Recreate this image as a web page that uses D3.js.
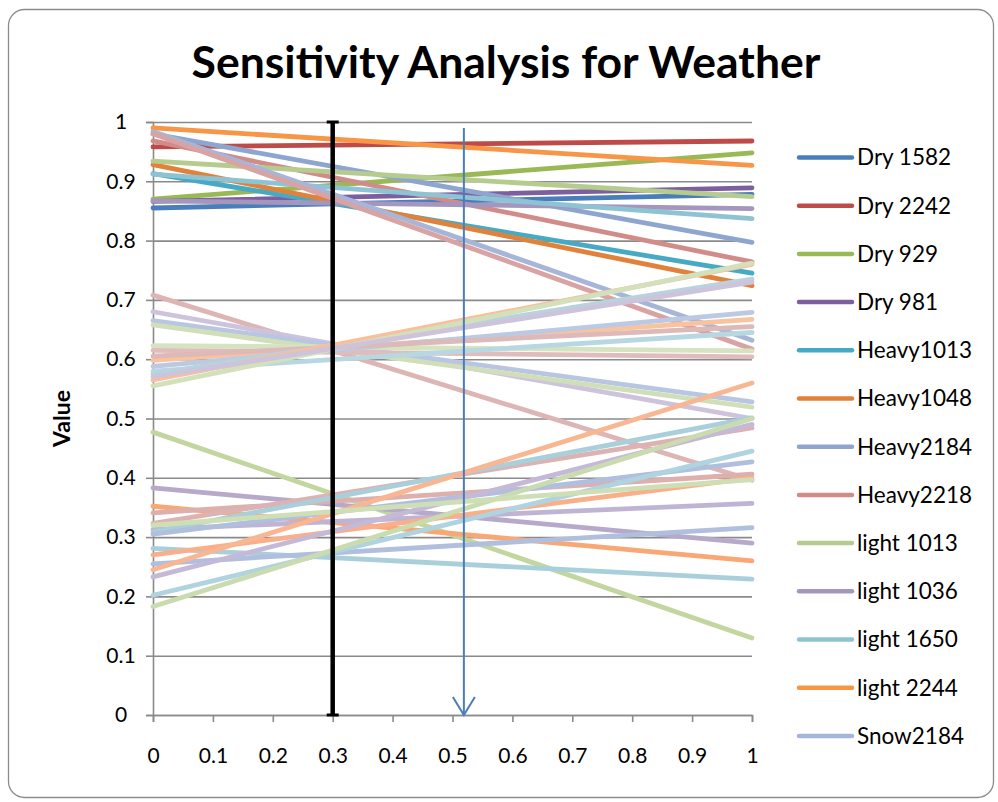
<!DOCTYPE html>
<html>
<head>
<meta charset="utf-8">
<script src="https://cdn.jsdelivr.net/npm/d3@7"></script>
<style>
  body { margin: 0; background: #fff; }
  svg text { font-family: Lato, "Open Sans", sans-serif; fill: #000; }
</style>
</head>
<body>
<svg id="chart" width="998" height="802"></svg>
<script>
// ---- data ---------------------------------------------------------
const legendNames = ["Dry 1582", "Dry 2242", "Dry 929", "Dry 981", "Heavy1013", "Heavy1048",
  "Heavy2184", "Heavy2218", "light 1013", "light 1036", "light 1650", "light 2244", "Snow2184"];
const legendColors = ["#4a7ebb", "#be4b48", "#98b954", "#7d5fa0", "#46aac5", "#e0823a",
  "#8ea5d0", "#d18c8a", "#b5cc8e", "#a596be", "#8ec3d4", "#f79646", "#a6b6d8"];

// every series is a straight run from x = 0 to x = 1
const xValues = [0, 1];
// top group (first 13 = legend), then the pale middle and low groups
const startValues = [
  0.855, 0.958, 0.870, 0.866, 0.913, 0.928, 0.980, 0.968, 0.934, 0.867, 0.912, 0.990, 0.984, 0.980,
  0.708, 0.680, 0.665, 0.658, 0.623, 0.615, 0.598, 0.588, 0.580, 0.605, 0.575, 0.565, 0.555, 0.570,
  0.477, 0.383, 0.352, 0.341, 0.323, 0.313, 0.309, 0.305, 0.281, 0.270, 0.255, 0.245, 0.233, 0.202, 0.183, 0.320
];
const endValues = [
  0.878, 0.968, 0.948, 0.889, 0.745, 0.724, 0.797, 0.764, 0.874, 0.854, 0.837, 0.927, 0.632, 0.617,
  0.396, 0.500, 0.528, 0.519, 0.614, 0.604, 0.667, 0.679, 0.645, 0.655, 0.735, 0.760, 0.762, 0.730,
  0.130, 0.290, 0.260, 0.406, 0.484, 0.357, 0.501, 0.427, 0.229, 0.400, 0.316, 0.560, 0.490, 0.445, 0.500, 0.397
];
const lineColors = [
  "#4a7ebb", "#be4b48", "#98b954", "#7d5fa0", "#46aac5", "#e0823a", "#8ea5d0", "#d18c8a",
  "#b5cc8e", "#a596be", "#8ec3d4", "#f79646", "#a6b6d8", "#d9a3a3",
  "#ddb5b4", "#cdc3dc", "#b9c6e2", "#d0dfb8", "#d6e3c0", "#e0bdbc", "#fac3a0", "#bcc9e3",
  "#b7d7e2", "#ddb9b8", "#b8d3de", "#f9be9a", "#d3e0bc", "#cdc4dc",
  "#c3d6a0", "#b6a9ca", "#f8a874", "#ddb0ae", "#dcb3b2", "#bfb4d3", "#a9cfdb", "#afbfdd",
  "#a9cfdb", "#f9b08a", "#afbfdd", "#f9b692", "#c4b9d6", "#afd3df", "#cadbaf", "#cfdfb5"
];

const xTickValues = [0, 0.1, 0.2, 0.3, 0.4, 0.5, 0.6, 0.7, 0.8, 0.9, 1];
const xTickLabels = ["0", "0.1", "0.2", "0.3", "0.4", "0.5", "0.6", "0.7", "0.8", "0.9", "1"];
const yTickValues = [0, 0.1, 0.2, 0.3, 0.4, 0.5, 0.6, 0.7, 0.8, 0.9, 1];
const yTickLabels = ["0", "0.1", "0.2", "0.3", "0.4", "0.5", "0.6", "0.7", "0.8", "0.9", "1"];

const markerX = 0.3;     // black threshold bar
const arrowX = 0.519;    // blue arrow
const arrowTop = 0.99;

// ---- layout --------------------------------------------------------
const svg = d3.select("#chart");
const plot = { left: 153, right: 752, top: 122, bottom: 715 };

const x = d3.scaleLinear().domain([0, 1]).range([plot.left, plot.right]);
const y = d3.scaleLinear().domain([0, 1]).range([plot.bottom, plot.top]);

svg.append("rect")
  .attr("x", 8.5).attr("y", 9.5)
  .attr("width", 985).attr("height", 788)
  .attr("rx", 16).attr("ry", 16)
  .attr("fill", "#fff").attr("stroke", "#8c8c8c").attr("stroke-width", 1.3);

svg.append("text")
  .attr("x", 506).attr("y", 78)
  .attr("text-anchor", "middle")
  .attr("font-size", 44.5).attr("font-weight", "bold")
  .text("Sensitivity Analysis for Weather");

// gridlines
svg.append("g")
  .attr("transform", `translate(${plot.left},0)`)
  .call(d3.axisLeft(y).tickValues(yTickValues).tickSize(-(plot.right - plot.left)).tickFormat(""))
  .call(g => g.select(".domain").remove())
  .call(g => g.selectAll("line").attr("stroke", "#8a8a8a").attr("stroke-width", 1.6));

// y axis (labels sit centred in the gutter, as in the original)
svg.append("g")
  .attr("transform", `translate(${plot.left},0)`)
  .call(d3.axisLeft(y).tickValues(yTickValues).tickSize(7).tickPadding(25)
    .tickFormat((d, i) => yTickLabels[i]))
  .call(g => g.select(".domain").attr("stroke", "#8a8a8a").attr("stroke-width", 1.6))
  .call(g => g.selectAll("line").attr("stroke", "#8a8a8a").attr("stroke-width", 1.6))
  .call(g => g.selectAll("text").attr("text-anchor", "middle")
    .attr("font-size", 21).attr("font-family", "Lato, sans-serif"));

// x axis
svg.append("g")
  .attr("transform", `translate(0,${plot.bottom})`)
  .call(d3.axisBottom(x).tickValues(xTickValues).tickSize(7).tickPadding(26)
    .tickFormat((d, i) => xTickLabels[i]))
  .call(g => g.select(".domain").attr("stroke", "#8a8a8a").attr("stroke-width", 1.6))
  .call(g => g.selectAll("line").attr("stroke", "#8a8a8a").attr("stroke-width", 1.6))
  .call(g => g.selectAll("text").attr("font-size", 21).attr("font-family", "Lato, sans-serif"));

svg.append("text")
  .attr("transform", `translate(70,${(plot.top + plot.bottom) / 2}) rotate(-90)`)
  .attr("text-anchor", "middle")
  .attr("font-size", 23).attr("font-weight", "bold")
  .text("Value");

// ---- series --------------------------------------------------------
const line = d3.line().x(d => x(d[0])).y(d => y(d[1]));
const series = startValues.map((s, i) => ({
  color: lineColors[i],
  points: [[xValues[0], s], [xValues[1], endValues[i]]]
}));

svg.append("g")
  .selectAll("path")
  .data(series)
  .join("path")
  .attr("d", d => line(d.points))
  .attr("fill", "none")
  .attr("stroke", d => d.color)
  .attr("stroke-width", 4.8)
  .attr("stroke-linecap", "round");

// ---- annotations ---------------------------------------------------
const bar = svg.append("g").attr("stroke", "#000");
bar.append("line")
  .attr("x1", x(markerX)).attr("x2", x(markerX))
  .attr("y1", y(1)).attr("y2", y(0))
  .attr("stroke-width", 4.5);
[1, 0].forEach(v => bar.append("line")
  .attr("x1", x(markerX) - 6).attr("x2", x(markerX) + 6)
  .attr("y1", y(v)).attr("y2", y(v))
  .attr("stroke-width", 3));

const arrow = svg.append("g")
  .attr("stroke", "#4a7ebb").attr("stroke-width", 2).attr("fill", "none");
arrow.append("line")
  .attr("x1", x(arrowX)).attr("x2", x(arrowX))
  .attr("y1", y(arrowTop)).attr("y2", y(0));
arrow.append("path")
  .attr("d", `M${x(arrowX) - 11},${y(0) - 18} L${x(arrowX)},${y(0)} L${x(arrowX) + 11},${y(0) - 18}`);

// ---- legend --------------------------------------------------------
const legend = svg.append("g")
  .selectAll("g")
  .data(legendNames)
  .join("g")
  .attr("transform", (d, i) => `translate(799,${157.5 + i * 48.2})`);

legend.append("line")
  .attr("x1", 0).attr("x2", 53)
  .attr("stroke", (d, i) => legendColors[i])
  .attr("stroke-width", 4.5)
  .attr("stroke-linecap", "round");

legend.append("text")
  .attr("x", 58).attr("dy", "0.35em")
  .attr("font-size", 22.5)
  .text(d => d);
</script>
</body>
</html>
